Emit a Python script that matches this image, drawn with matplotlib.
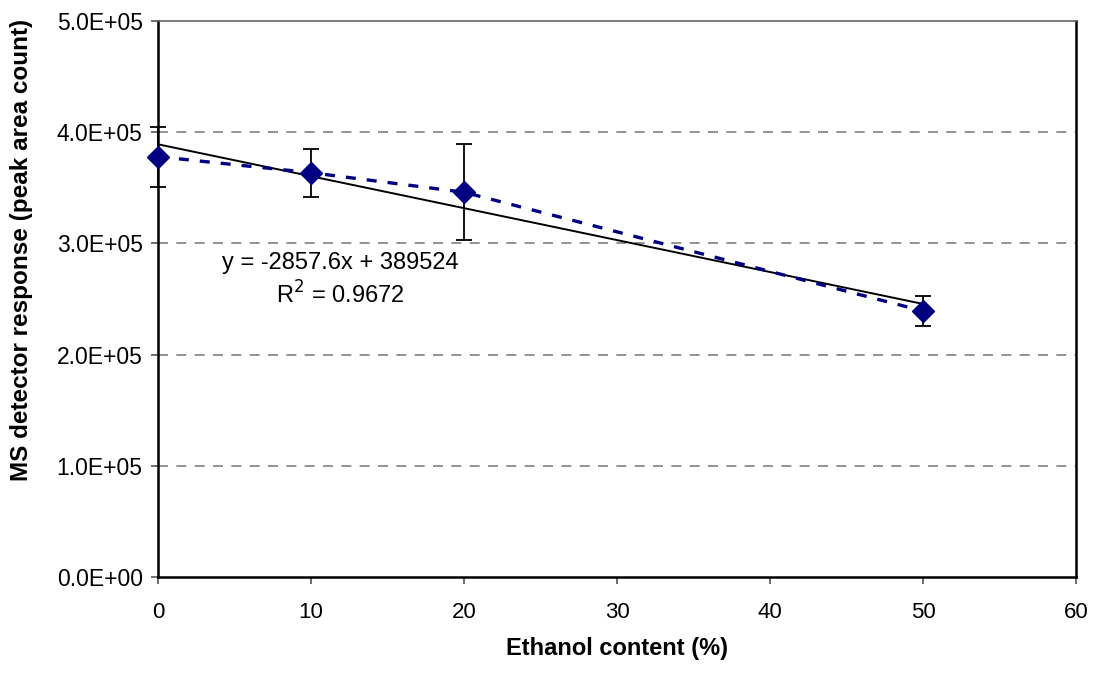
import numpy as np
import matplotlib
matplotlib.use("Agg")
import matplotlib.pyplot as plt

ethanol = [0, 10, 20, 50]
response = [378000, 363600, 346000, 239200]
err_low = [351000, 341500, 303000, 226000]
err_high = [405000, 384600, 389700, 253000]
yticks = [0, 1e5, 2e5, 3e5, 4e5, 5e5]
ytick_labels = ["0.0E+00", "1.0E+05", "2.0E+05", "3.0E+05", "4.0E+05", "5.0E+05"]
xticks = [0, 10, 20, 30, 40, 50, 60]

plt.rcParams['font.family'] = ['Liberation Sans', 'DejaVu Sans']

W, H = 1095, 673
fig = plt.figure(figsize=(W / 100, H / 100), dpi=100)
ax = fig.add_axes([158 / W, 1 - 577 / H, (1076 - 158) / W, (577 - 21) / H])

x = np.array(ethanol, dtype=float)
y = np.array(response, dtype=float)
yerr = np.array([y - np.array(err_low), np.array(err_high) - y])

for gy in yticks[1:5]:
    ax.axhline(gy, color='#808080', lw=1.2, ls=(0, (6, 5)), zorder=0)

ax.errorbar(x, y, yerr=yerr, fmt='none', ecolor='black', elinewidth=1.3,
            capsize=5.5, capthick=1.3, zorder=2, clip_on=False)

# linear trendline
slope, intercept = np.polyfit(x, y, 1)
xt = np.array([0, 50])
ax.plot(xt, slope * xt + intercept, color='black', lw=1.4, zorder=3)

ax.plot(x, y, color='#000080', lw=2.4, ls=(0, (3, 3.3)), zorder=4)
ax.plot(x, y, ls='none', marker='D', ms=11.5, color='#000080', zorder=5, clip_on=False)

ax.text(11.9, 2.824e5, "y = -2857.6x + 389524", ha='center', va='center', fontsize=17)
ax.text(11.9, 2.536e5, "R$^2$ = 0.9672", ha='center', va='center', fontsize=17)

ax.set_xlim(0, 60)
ax.set_ylim(0, 5e5)
ax.set_xticks(xticks)
ax.set_xticklabels([str(t) for t in xticks], fontsize=16)
ax.set_yticks(yticks)
ax.set_yticklabels(ytick_labels, fontsize=16.5)
ax.tick_params(axis='both', direction='out', length=5, width=1.2, color='#555555')
ax.tick_params(axis='x', pad=13)
ax.tick_params(axis='y', pad=6)

for s in ['left', 'bottom', 'right']:
    ax.spines[s].set_color('black')
    ax.spines[s].set_linewidth(1.8)
ax.spines['top'].set_color('#666666')
ax.spines['top'].set_linewidth(1.2)

fig.text(617 / W, 1 - 648 / H, "Ethanol content (%)", ha='center', va='center',
         fontsize=17, fontweight='bold')
fig.text(22 / W, 1 - 250 / H, "MS detector response (peak area count)", ha='center',
         va='center', rotation=90, fontsize=17.5, fontweight='bold')

fig.savefig("out.png", dpi=100)
